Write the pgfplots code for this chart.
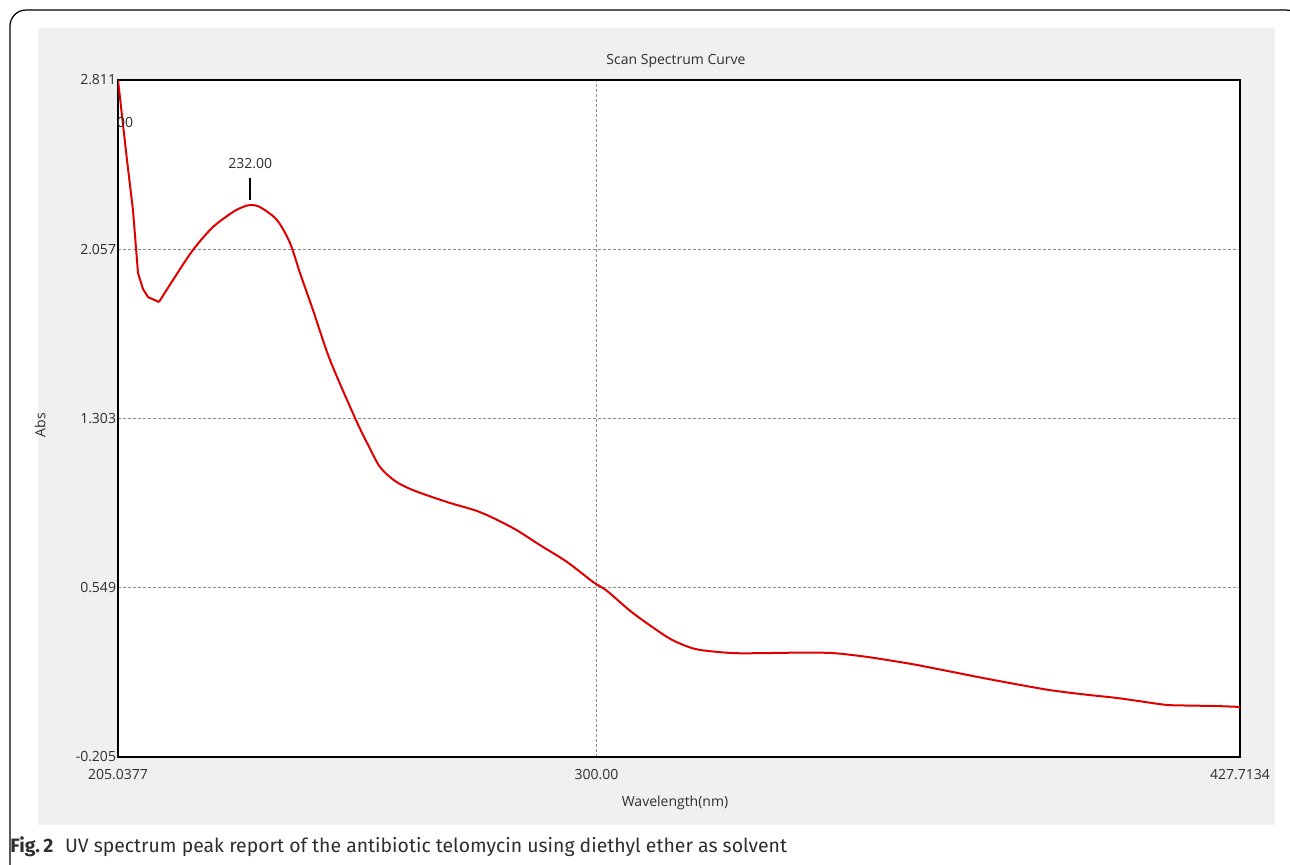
\documentclass[border=0pt]{standalone}
\usepackage{pgfplots}
\pgfplotsset{compat=1.18}
\usepackage{fontspec}
\setmainfont{Open Sans}
\newfontfamily\capfont{Fira Sans}
\definecolor{panel}{HTML}{F0F0F0}
\definecolor{curve}{HTML}{E00000}
\definecolor{txt}{HTML}{2E2E2E}
\definecolor{gridc}{HTML}{8C8C8C}
\begin{document}
\begin{tikzpicture}[x=0.5pt,y=-0.5pt]
\useasboundingbox (0,0) rectangle (1290,864);
\begin{scope}
\clip (0,0) rectangle (1290,864);
\draw[line width=0.6pt, rounded corners=8pt] (10,900) -- (10,10) -- (1302,10) -- (1302,900);
\end{scope}
\fill[panel] (38,28) rectangle (1275,825);
\begin{axis}[
  at={(59pt,-378.5pt)}, anchor=south west,
  scale only axis, width=561pt, height=338.5pt,
  xmin=205.0377, xmax=427.7134, ymin=-0.205, ymax=2.811,
  xtick={205.0377,300,427.7134}, xticklabels={205.0377,300.00,427.7134},
  ytick={-0.205,0.549,1.303,2.057,2.811},
  yticklabels={-0.205,0.549,1.303,2.057,2.811},
  major tick length=0pt,
  grid=major,
  major grid style={gridc, line width=0.6pt, dash pattern=on 1.5pt off 1pt},
  axis line style={line width=1.2pt, black},
  axis background/.style={fill=white},
  /pgf/number format/assume math mode=true,
  ticklabel style={font=\fontsize{7}{8}\selectfont, text=txt},
  yticklabel style={inner sep=0.8pt},
  xticklabel style={inner sep=1pt, yshift=-5pt},
  clip=true,
]
\addplot[curve, line width=1pt] coordinates {
(205.04,2.811) (206.82,2.455) (208.01,2.232) (209.01,1.951) (210.0,1.880)
(211.00,1.844) (213.17,1.822)
};
\addplot[curve, line width=1pt, smooth, tension=0.5] coordinates {
(213.17,1.822) (215.95,1.920) (219.92,2.054) (223.89,2.156)
(227.86,2.223) (229.8,2.245) (231.24,2.254) (233.22,2.245) (236.59,2.187)
(239.17,2.085) (241.16,1.951) (243.74,1.786) (247.11,1.564) (252.27,1.296)
(254.8,1.180) (257.04,1.087) (260.0,1.025) (263.59,0.984) (270.33,0.931)
(276.88,0.886) (283.43,0.815) (288.79,0.739) (294.15,0.664) (299.31,0.575)
(302.09,0.535) (307.25,0.436) (313.99,0.330) (317.5,0.292) (320.54,0.272)
(327.09,0.258) (333.7,0.258) (340.39,0.260) (346.94,0.258) (353.69,0.241)
(360.24,0.218) (363.61,0.205) (370.2,0.176) (376.71,0.147) (383.4,0.119)
(390.01,0.093) (396.7,0.074) (403.30,0.058) (408.3,0.042) (413.23,0.027)
(418.2,0.024) (423.15,0.022) (427.71,0.018)
};
\draw[line width=1pt] (axis cs:231.3,2.276) -- (axis cs:231.3,2.374);
\node[font=\fontsize{7}{8}\selectfont, text=txt] at (axis cs:231.3,2.441) {232.00};
\node[font=\fontsize{7}{8}\selectfont, text=txt, anchor=west, inner sep=0pt] at (axis cs:204.8,2.62) {00};
\end{axis}
\node[font=\fontsize{7}{8}\selectfont, text=txt] at (676,61) {Scan Spectrum Curve};
\node[font=\fontsize{7}{8}\selectfont, text=txt] at (675,803) {Wavelength(nm)};
\node[font=\fontsize{7}{8}\selectfont, text=txt, rotate=90] at (40,425) {Abs};
\node[anchor=west, inner sep=0pt, text=txt] at (10,847) {\capfont\fontsize{9.7}{11}\selectfont\textbf{Fig.\,2}\hspace{0.6em}UV spectrum peak report of the antibiotic telomycin using diethyl ether as solvent};
\end{tikzpicture}
\end{document}
